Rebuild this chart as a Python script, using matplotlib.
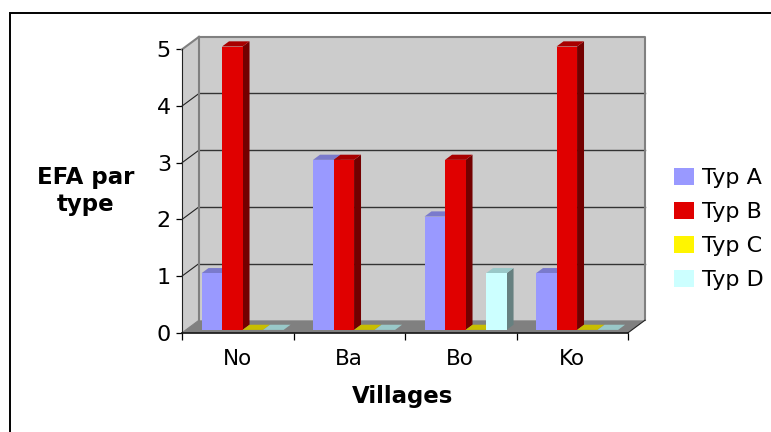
import matplotlib
matplotlib.use("Agg")
import matplotlib.pyplot as plt
from matplotlib.patches import Patch, Polygon, Rectangle

villages = ["No", "Ba", "Bo", "Ko"]
series_names = ["Typ A", "Typ B", "Typ C", "Typ D"]
typ_a = [1, 3, 2, 1]
typ_b = [5, 3, 3, 5]
typ_c = [0, 0, 0, 0]
typ_d = [0, 0, 1, 0]
y_ticks = [0, 1, 2, 3, 4, 5]

# front, top, side shades of each series
front_cols = ["#9999FF", "#E00000", "#FFF500", "#CCFFFF"]
top_cols = ["#7A7ACC", "#A80000", "#C8BE00", "#99C8C8"]
side_cols = ["#5C5C99", "#730000", "#807A00", "#668080"]

W, H = 771, 432
plt.rcParams["font.family"] = "DejaVu Sans"
fig = plt.figure(figsize=(W / 100, H / 100), dpi=100)

# axes = the front plane of the fake 3D box
left, right, y0, y5 = 182, 628, 332.8, 49.4
ax = fig.add_axes([left / W, 1 - y0 / H, (right - left) / W, (y0 - y5) / H])
ax.set_xlim(0, 4)
ax.set_ylim(0, 5)
ax.patch.set_visible(False)

# depth of the box in data units
dx = 17 / ((right - left) / 4)
dy = 12.6 / ((y0 - y5) / 5)

def poly(pts, col, z=1, **kw):
    ax.add_patch(Polygon(pts, closed=True, facecolor=col, edgecolor="none",
                         clip_on=False, zorder=z, **kw))

# walls and floor
poly([(0, 0), (dx, dy), (dx, 5 + dy), (0, 5)], "#CCCCCC")
poly([(dx, dy), (4 + dx, dy), (4 + dx, 5 + dy), (dx, 5 + dy)], "#CCCCCC")
poly([(0, 0), (4, 0), (4 + dx, dy), (dx, dy)], "#808080")

for v in y_ticks[1:5]:
    ax.plot([0, dx], [v, v + dy], color="#222222", lw=0.8, clip_on=False, zorder=2)
    ax.plot([dx, 4 + dx], [v + dy, v + dy], color="#333333", lw=1.0, clip_on=False, zorder=2)

wall_edge = dict(color="#808080", lw=1.5, clip_on=False, zorder=2)
ax.plot([dx, dx], [dy, 5 + dy], **wall_edge)
ax.plot([dx, 4 + dx, 4 + dx], [5 + dy, 5 + dy, dy], **wall_edge)
ax.plot([0, dx], [5, 5 + dy], **wall_edge)
ax.plot([4, 4 + dx], [0, dy], color="#222222", lw=0.8, clip_on=False, zorder=2)
ax.plot([0, dx], [0, dy], color="#808080", lw=0.8, clip_on=False, zorder=2)

# bars
bar_w = 0.184
start = 0.14
gap_d, bar_d = 0.23, 0.41
all_series = [typ_a, typ_b, typ_c, typ_d]
z = 3
for c in range(len(villages)):
    for s, vals in enumerate(all_series):
        v = vals[c]
        x1 = c + start + s * bar_w + gap_d * dx
        x2 = x1 + bar_w
        b = gap_d * dy
        ox, oy = bar_d * dx, bar_d * dy
        poly([(x2, b), (x2 + ox, b + oy), (x2 + ox, b + oy + v), (x2, b + v)], side_cols[s], z)
        poly([(x1, b + v), (x2, b + v), (x2 + ox, b + v + oy), (x1 + ox, b + v + oy)], top_cols[s], z)
        if v > 0:
            ax.add_patch(Rectangle((x1, b), bar_w, v, facecolor=front_cols[s], edgecolor="none",
                                   clip_on=False, zorder=z))
        z += 1

# axes lines and ticks
for sp in ["top", "right"]:
    ax.spines[sp].set_visible(False)
ax.spines["left"].set_color("#222222")
ax.spines["bottom"].set_color("#111111")
ax.spines["bottom"].set_linewidth(1.2)
ax.spines["left"].set_zorder(50)
ax.spines["bottom"].set_zorder(50)

ax.set_yticks(y_ticks)
ax.tick_params(axis="y", labelsize=16, length=4, pad=4, width=0.9)
ax.set_xticks(range(len(villages) + 1))
ax.set_xticklabels([])
ax.tick_params(axis="x", which="major", length=5, width=0.9)
ax.set_xticks([i + 0.495 for i in range(len(villages))], minor=True)
ax.set_xticklabels(villages, minor=True, fontsize=15.5)
ax.tick_params(axis="x", which="minor", length=0, pad=12)

fig.text(402.5 / W, 1 - 397 / H, "Villages", fontsize=16.5, fontweight="bold", ha="center", va="center")
fig.text(86 / W, 1 - 191 / H, "EFA par\ntype", fontsize=16.5, fontweight="bold", ha="center", va="center",
         linespacing=1.2)

handles = [Patch(facecolor=col, edgecolor="none") for col in front_cols]
fig.legend(handles, series_names, loc="center left", bbox_to_anchor=(674 / W, 1 - 229 / H),
           frameon=False, fontsize=16, handlelength=0.9, handleheight=0.8, handletextpad=0.35,
           labelspacing=0.62, borderpad=0, borderaxespad=0)

# outer chart frame, runs off the picture at right and bottom
fig.add_artist(Rectangle((9.5 / W, -0.05), 1.1, 1.05 - 12.5 / H, transform=fig.transFigure,
                         facecolor="none", edgecolor="black", lw=1.4))

fig.savefig("out.png", dpi=100)
